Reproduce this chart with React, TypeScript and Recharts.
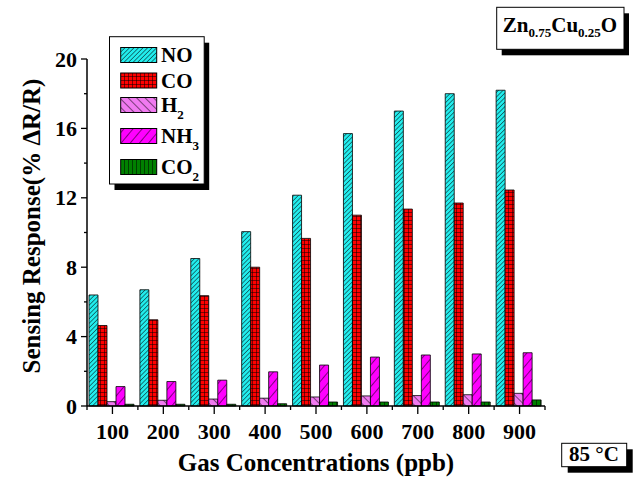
import React from "react";
import { BarChart, Bar, XAxis, YAxis, Legend } from "recharts";

const concentrations = ["100", "200", "300", "400", "500", "600", "700", "800", "900"];
const noResponse = [6.4, 6.7, 8.5, 10.05, 12.15, 15.7, 17.0, 18.0, 18.2];
const coResponse = [4.64, 4.97, 6.36, 8.0, 9.66, 11.0, 11.35, 11.7, 12.45];
const h2Response = [0.25, 0.33, 0.4, 0.45, 0.52, 0.58, 0.6, 0.65, 0.73];
const nh3Response = [1.12, 1.41, 1.49, 1.97, 2.36, 2.82, 2.94, 3.0, 3.07];
const co2Response = [0.1, 0.1, 0.1, 0.13, 0.23, 0.23, 0.23, 0.23, 0.35];
const yTicks = [0, 2, 4, 6, 8, 10, 12, 14, 16, 18, 20];

const FONT = "'Liberation Serif', 'Times New Roman', serif";
const W = 637;
const H = 479;
const PLOT_LEFT = 87;
const PLOT_RIGHT = 545;

const series = [
  { key: "no", name: "NO", sub: "", fill: "url(#patNO)" },
  { key: "co", name: "CO", sub: "", fill: "url(#patCO)" },
  { key: "h2", name: "H", sub: "2", fill: "url(#patH2)" },
  { key: "nh3", name: "NH", sub: "3", fill: "url(#patNH3)" },
  { key: "co2", name: "CO", sub: "2", fill: "url(#patCO2)" },
];

const data = concentrations.map((c, i) => ({
  conc: c,
  no: noResponse[i],
  co: coResponse[i],
  h2: h2Response[i],
  nh3: nh3Response[i],
  co2: co2Response[i],
}));

// hatch patterns shared by the bars and the legend swatches
const Patterns = () => (
  <svg width={0} height={0} style={{ position: "absolute" }}>
    <defs>
      <pattern id="patNO" width={3.2} height={3.2} patternUnits="userSpaceOnUse" patternTransform="rotate(45)">
        <rect width={3.2} height={3.2} fill="#22eeee" />
        <line x1={0} y1={0} x2={0} y2={3.2} stroke="#0a3c40" strokeWidth={1.3} />
      </pattern>
      <pattern id="patCO" width={4} height={4} patternUnits="userSpaceOnUse">
        <rect width={4} height={4} fill="#ff0000" />
        <path d="M0 0 H4 M0 0 V4" stroke="#000" strokeWidth={1} />
      </pattern>
      <pattern id="patH2" width={6} height={6} patternUnits="userSpaceOnUse" patternTransform="rotate(-45)">
        <rect width={6} height={6} fill="#f07af0" />
        <line x1={0} y1={0} x2={0} y2={6} stroke="#000" strokeWidth={1} />
      </pattern>
      <pattern id="patNH3" width={7} height={7} patternUnits="userSpaceOnUse" patternTransform="rotate(40)">
        <rect width={7} height={7} fill="#ff00ff" />
        <line x1={0} y1={0} x2={0} y2={7} stroke="#000" strokeWidth={1} />
      </pattern>
      <pattern id="patCO2" width={4} height={4} patternUnits="userSpaceOnUse">
        <rect width={4} height={4} fill="#008000" />
        <line x1={0} y1={0} x2={0} y2={4} stroke="#000" strokeWidth={1} />
      </pattern>
    </defs>
  </svg>
);

const YTick = (props: any) => {
  const { x, y, payload } = props;
  const major = payload.value % 4 === 0;
  return (
    <g>
      <line x1={x} x2={x - (major ? 6 : 3)} y1={y} y2={y} stroke="#000" strokeWidth={1.3} />
      {major && (
        <text x={x - 10} y={y + 7.5} textAnchor="end" fontFamily={FONT} fontWeight="bold" fontSize={22} fill="#000">
          {payload.value}
        </text>
      )}
    </g>
  );
};

const XTick = (props: any) => {
  const { x, y, payload, index } = props;
  const bw = (PLOT_RIGHT - PLOT_LEFT) / concentrations.length;
  return (
    <g>
      <line x1={x} x2={x} y1={y} y2={y + 8} stroke="#000" strokeWidth={1.3} />
      <line x1={x - bw / 2} x2={x - bw / 2} y1={y} y2={y + 4} stroke="#000" strokeWidth={1.3} />
      {index === concentrations.length - 1 && (
        <line x1={x + bw / 2} x2={x + bw / 2} y1={y} y2={y + 4} stroke="#000" strokeWidth={1.3} />
      )}
      <text x={x} y={y + 33} textAnchor="middle" fontFamily={FONT} fontWeight="bold" fontSize={22} fill="#000">
        {payload.value}
      </text>
    </g>
  );
};

const LegendBox = () => {
  const rows = [23, 48.5, 73, 104, 135];
  return (
    <svg width={110} height={165}>
      <rect x={10.5} y={10.7} width={94.7} height={147.3} fill="#000" />
      <rect x={5.5} y={4.7} width={94.7} height={147.3} fill="#fff" stroke="#000" strokeWidth={1} />
      {series.map((s, i) => (
        <g key={s.key}>
          <rect x={16.7} y={rows[i] - 7.5} width={36} height={15} fill={s.fill} stroke="#000" strokeWidth={1} />
          <text x={57} y={rows[i] + 7} fontFamily={FONT} fontWeight="bold" fontSize={21} fill="#000">
            {s.name}
            {s.sub && (
              <tspan fontSize={13} dy={7}>
                {s.sub}
              </tspan>
            )}
          </text>
        </g>
      ))}
    </svg>
  );
};

const Overlay = () => (
  <svg width={W} height={H} style={{ position: "absolute", left: 0, top: 0, pointerEvents: "none" }}>
    <text
      transform="translate(40, 226) rotate(-90)"
      textAnchor="middle"
      fontFamily={FONT}
      fontWeight="bold"
      fontSize={25}
      fill="#000"
    >
      Sensing Response(% ΔR/R)
    </text>
    <text x={316} y={471} textAnchor="middle" fontFamily={FONT} fontWeight="bold" fontSize={25} fill="#000">
      Gas Concentrations (ppb)
    </text>

    <rect x={501.7} y={13.3} width={127.3} height={42} fill="#000" />
    <rect x={496.7} y={7.3} width={127.3} height={42} fill="#fff" stroke="#000" strokeWidth={1} />
    <text x={560} y={32} textAnchor="middle" fontFamily={FONT} fontWeight="bold" fontSize={21} fill="#000">
      Zn
      <tspan fontSize={13} dy={5}>0.75</tspan>
      <tspan dy={-5}>Cu</tspan>
      <tspan fontSize={13} dy={5}>0.25</tspan>
      <tspan dy={-5}>O</tspan>
    </text>

    <rect x={567.7} y={449.3} width={65} height={23.4} fill="#000" />
    <rect x={561.7} y={443.3} width={65} height={23.4} fill="#fff" stroke="#000" strokeWidth={1} />
    <text x={594} y={461} textAnchor="middle" fontFamily={FONT} fontWeight="bold" fontSize={21} fill="#000">
      85 °C
    </text>
  </svg>
);

export default function App() {
  return (
    <div style={{ position: "absolute", left: 0, top: 0, width: W, height: H, background: "#fff" }}>
      <Patterns />
      <BarChart
        width={W}
        height={H}
        data={data}
        margin={{ top: 59, right: W - PLOT_RIGHT, bottom: 43, left: 27 }}
        barCategoryGap={2}
        barGap={0}
      >
        <XAxis
          dataKey="conc"
          height={30}
          tickSize={0}
          tickMargin={0}
          tick={<XTick />}
          interval={0}
          axisLine={{ stroke: "#000", strokeWidth: 1.5 }}
        />
        <YAxis
          width={60}
          domain={[0, 20]}
          ticks={yTicks}
          interval={0}
          tickSize={0}
          tickMargin={0}
          tick={<YTick />}
          axisLine={{ stroke: "#000", strokeWidth: 1.5 }}
        />
        <Legend
          layout="vertical"
          align="center"
          verticalAlign="middle"
          content={() => <LegendBox />}
          wrapperStyle={{ left: 104, top: 32, width: 110, height: 165 }}
        />
        {series.map((s) => (
          <Bar
            key={s.key}
            dataKey={s.key}
            name={s.name + s.sub}
            fill={s.fill}
            stroke="#000"
            strokeWidth={0.8}
            isAnimationActive={false}
          />
        ))}
      </BarChart>
      <Overlay />
    </div>
  );
}
